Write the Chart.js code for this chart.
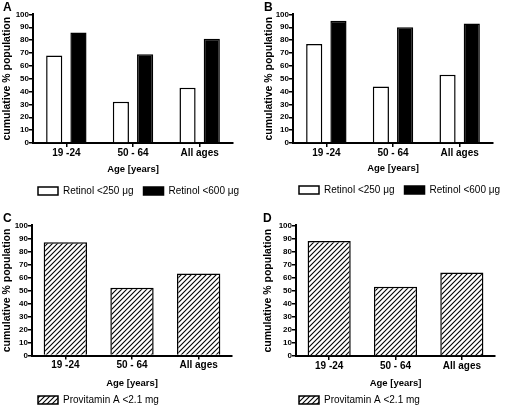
<!DOCTYPE html>
<html lang="en">

<head>
  <meta charset="UTF-8">
  <title>Retinol and provitamin A</title>
  <script src="https://cdn.jsdelivr.net/npm/chart.js"></script>
  <style>
    body { margin: 0; background: #fff; width: 510px; height: 407px; overflow: hidden; position: relative; }
    canvas { position: absolute; }
    #chartA { left: 0; top: 0; }
    #chartB { left: 255px; top: 0; }
    #chartC { left: 0; top: 211px; }
    #chartD { left: 255px; top: 211px; }
  </style>
</head>

<body>
  <canvas id="chartA" width="255" height="206"></canvas>
  <canvas id="chartB" width="255" height="205"></canvas>
  <canvas id="chartC" width="255" height="204"></canvas>
  <canvas id="chartD" width="255" height="204"></canvas>

<script>
  const ageGroups = ['19 -24', '50 - 64', 'All ages'];
  const yTicks = [0, 10, 20, 30, 40, 50, 60, 70, 80, 90, 100];

  const retinol250A = [68, 32, 43];
  const retinol600A = [86, 69, 81];
  const retinol250B = [77, 44, 53];
  const retinol600B = [95, 90, 93];
  const provitaminC = [87, 52, 63];
  const provitaminD = [88, 53, 64];

  Chart.defaults.font.family = 'Arial, "Liberation Sans", sans-serif';
  Chart.defaults.color = '#000';

  // diagonal hatch fill for the provitamin bars
  function hatch() {
    const c = document.createElement('canvas');
    c.width = 5;
    c.height = 5;
    const ctx = c.getContext('2d');
    ctx.fillStyle = '#fff';
    ctx.fillRect(0, 0, 5, 5);
    ctx.strokeStyle = '#000';
    ctx.lineWidth = 1.1;
    ctx.beginPath();
    ctx.moveTo(0, 5); ctx.lineTo(5, 0);
    ctx.moveTo(-1, 1); ctx.lineTo(1, -1);
    ctx.moveTo(4, 6); ctx.lineTo(6, 4);
    ctx.stroke();
    return ctx.createPattern(c, 'repeat');
  }

  // move the legend so it starts just right of the y axis, like the original
  const legendShift = {
    id: 'legendShift',
    afterLayout(chart, args, opts) {
      chart.legend.left = opts.x - chart.options.plugins.legend.labels.padding;
      chart.legend.right = chart.width + 200;
    }
  };

  function retinolSets(low, high) {
    return [{
      label: 'Retinol <250 μg',
      data: low,
      backgroundColor: '#fff',
      borderColor: '#000',
      borderWidth: 1.5,
      categoryPercentage: 0.727,
      barPercentage: 0.667
    }, {
      label: 'Retinol <600 μg',
      data: high,
      backgroundColor: '#000',
      borderColor: '#000',
      borderWidth: 1.5,
      categoryPercentage: 0.727,
      barPercentage: 0.667
    }];
  }

  function provitaminSet(values) {
    return [{
      label: 'Provitamin A <2.1 mg',
      data: values,
      backgroundColor: hatch(),
      borderColor: '#000',
      borderWidth: 1.5,
      categoryPercentage: 0.65,
      barPercentage: 1
    }];
  }

  function panel(id, letter, datasets, s) {
    return new Chart(document.getElementById(id), {
      type: 'bar',
      data: { labels: ageGroups, datasets: datasets },
      options: {
        responsive: false,
        animation: false,
        devicePixelRatio: 1,
        layout: { padding: { left: s.padLeft, right: s.padRight, top: 0, bottom: 0 } },
        plugins: {
          title: {
            display: true, text: letter, align: 'start', padding: 0, color: '#000',
            font: { size: 12, weight: 'bold' }
          },
          legend: {
            position: 'bottom', align: 'start',
            labels: { boxWidth: 20, boxHeight: 8, padding: s.legendPad, color: '#000', font: { size: 10 } }
          },
          tooltip: { enabled: false },
          legendShift: { x: s.legendX }
        },
        scales: {
          x: {
            offset: true,
            grid: { display: true, drawOnChartArea: false, offset: false, tickLength: 4, color: '#000', lineWidth: 1.5 },
            border: { display: true, color: '#000', width: 2 },
            ticks: { padding: 0, maxRotation: 0, font: { size: 10, weight: 'bold' } },
            title: {
              display: true, text: 'Age [years]',
              font: { size: 9.5, weight: 'bold' },
              padding: { top: 0, bottom: s.xTitlePad }
            },
            afterFit: function (scale) { scale.height = s.xHeight; }
          },
          y: {
            min: yTicks[0],
            max: yTicks[yTicks.length - 1],
            afterBuildTicks: function (scale) { scale.ticks = yTicks.map(v => ({ value: v })); },
            grid: { drawOnChartArea: false, tickLength: 4, color: '#000', lineWidth: 1.5 },
            border: { display: true, color: '#000', width: 2 },
            ticks: { autoSkip: false, padding: 0, font: { size: 8, weight: 'bold' } },
            title: {
              display: true, text: 'cumulative % population',
              font: { size: 10.5, weight: 'bold', lineHeight: 0.7 },
              padding: { top: s.yTitlePad, bottom: 0 }
            },
            afterFit: function (scale) { scale.width = s.yWidth; }
          }
        }
      },
      plugins: [legendShift]
    });
  }

  panel('chartA', 'A', retinolSets(retinol250A, retinol600A),
    { padLeft: 3, padRight: 22, yWidth: 30, yTitlePad: 0, xHeight: 33, xTitlePad: 1.3, legendPad: 10, legendX: 38 });
  panel('chartB', 'B', retinolSets(retinol250B, retinol600B),
    { padLeft: 9, padRight: 17, yWidth: 29, yTitlePad: 1, xHeight: 32, xTitlePad: 1.3, legendPad: 10, legendX: 44 });
  panel('chartC', 'C', provitaminSet(provitaminC),
    { padLeft: 3, padRight: 23, yWidth: 29, yTitlePad: 0, xHeight: 31.5, xTitlePad: -1.7, legendPad: 8, legendX: 38 });
  panel('chartD', 'D', provitaminSet(provitaminD),
    { padLeft: 8, padRight: 15, yWidth: 33, yTitlePad: 1.8, xHeight: 31, xTitlePad: -1.7, legendPad: 8, legendX: 44 });
</script>
</body>

</html>
